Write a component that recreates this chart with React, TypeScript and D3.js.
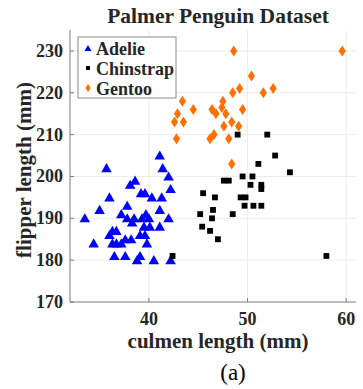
import * as d3 from "d3";

// culmen length (mm), flipper length (mm)
const adelieX = [41.1, 35.7, 41.4, 42.0, 38.6, 38.1, 42.2, 39.2, 39.6, 36.0, 40.3, 41.3, 37.8, 35.0, 41.1, 37.2, 33.5, 37.8, 38.5, 39.3, 39.7, 40.0, 42.0, 38.3, 39.5, 40.1, 41.1, 36.3, 36.7, 36.0, 39.1, 39.6, 37.6, 38.2, 34.4, 36.3, 36.7, 37.2, 39.8, 36.5, 37.6, 39.1, 38.8, 40.5, 42.2];
const adelieY = [205, 202, 202, 200, 199, 198, 197, 196, 196, 195, 195, 195, 193, 192, 192, 191, 190, 190, 190, 190, 191, 190, 190, 189, 188, 188, 188, 187, 187, 186, 186, 186, 185, 185, 184, 184, 184, 184, 184, 181, 181, 181, 180, 180, 180];

const chinstrapX = [51.1, 49.5, 50.5, 47.6, 48.1, 50.3, 51.4, 51.4, 45.5, 46.7, 49.3, 49.8, 49.7, 50.6, 51.4, 46.5, 45.2, 48.5, 46.4, 45.4, 46.2, 47.0, 42.4, 52.8, 54.3, 58.0, 49.0, 52.0];
const chinstrapY = [203, 200, 200, 199, 199, 198, 198, 197, 196, 195, 195, 195, 193, 193, 193, 192, 191, 191, 190, 188, 187, 185, 181, 205, 201, 181, 210, 210];

const gentooX = [48.6, 50.4, 49.2, 48.5, 51.6, 43.4, 47.5, 44.5, 42.9, 46.4, 46.8, 47.4, 47.8, 49.5, 42.6, 43.5, 48.4, 47.6, 49.1, 42.8, 46.2, 46.6, 48.1, 59.6, 52.6, 48.4];
const gentooY = [230, 224, 221, 220, 220, 218, 218, 216, 215, 216, 215, 216.5, 215, 216, 213, 213, 213, 212, 212, 209, 209, 210, 209, 230, 221, 203];

const xTicks = [40, 50, 60];
const yTicks = [170, 180, 190, 200, 210, 220, 230];

const font = "'Liberation Serif', 'Times New Roman', serif";
const orange = "#ff7000";
const ink = "#262626";

export default function App() {
  const width = 363, height = 389;
  const left = 70, right = 356, top = 30, bottom = 302;

  const x = d3.scaleLinear().domain([32, 61]).range([left, right]);
  const y = d3.scaleLinear().domain([170, 235]).range([bottom, top]);

  const tri = d3.symbol().type(d3.symbolTriangle).size(48)();
  const sq = d3.symbol().type(d3.symbolSquare).size(34)();
  const diamond = "M0,-5.5L3.6,0L0,5.5L-3.6,0Z";

  return (
    <svg width={width} height={height}
      style={{ position: "absolute", left: 0, top: 0, background: "#fff" }}
      fontFamily={font}>
      {/* grid */}
      {xTicks.map((t) => (
        <line key={"gx" + t} x1={x(t)} x2={x(t)} y1={top} y2={bottom} stroke="#ececec" strokeWidth={1} />
      ))}
      {yTicks.slice(1).map((t) => (
        <line key={"gy" + t} x1={left} x2={right} y1={y(t)} y2={y(t)} stroke="#ececec" strokeWidth={1} />
      ))}

      {/* axes */}
      <line x1={left} x2={left} y1={top} y2={bottom} stroke="#7a7a7a" />
      <line x1={left} x2={right} y1={bottom} y2={bottom} stroke="#7a7a7a" />
      {yTicks.map((t) => (
        <g key={"ty" + t}>
          <line x1={left} x2={left + 4} y1={y(t)} y2={y(t)} stroke="#7a7a7a" />
          <text x={left - 7} y={y(t) + 6} textAnchor="end" fontSize={18} fontWeight="bold" fill={ink}>{t}</text>
        </g>
      ))}
      {xTicks.map((t) => (
        <g key={"tx" + t}>
          <line x1={x(t)} x2={x(t)} y1={bottom} y2={bottom - 4} stroke="#7a7a7a" />
          <text x={x(t)} y={bottom + 23} textAnchor="middle" fontSize={18} fontWeight="bold" fill={ink}>{t}</text>
        </g>
      ))}

      {/* points */}
      {adelieX.map((v, i) => (
        <path key={"a" + i} d={tri} transform={`translate(${x(v)},${y(adelieY[i]) + 1})`} fill="#0000ff" />
      ))}
      {chinstrapX.map((v, i) => (
        <path key={"c" + i} d={sq} transform={`translate(${x(v)},${y(chinstrapY[i])})`} fill="#000" />
      ))}
      {gentooX.map((v, i) => (
        <path key={"g" + i} d={diamond} transform={`translate(${x(v)},${y(gentooY[i])})`} fill={orange} />
      ))}

      {/* legend */}
      <rect x={78} y={37} width={98} height={61} fill="#fff" stroke="#8a8a8a" />
      <path d={d3.symbol().type(d3.symbolTriangle).size(22)()} transform="translate(88,49)" fill="#0000ff" />
      <path d={d3.symbol().type(d3.symbolSquare).size(16)()} transform="translate(88,68)" fill="#000" />
      <path d="M0,-4L2.6,0L0,4L-2.6,0Z" transform="translate(88,88)" fill={orange} />
      <text x={96} y={55} fontSize={18} fontWeight="bold" fill={ink}>Adelie</text>
      <text x={96} y={75} fontSize={18} fontWeight="bold" fill={ink}>Chinstrap</text>
      <text x={96} y={95} fontSize={18} fontWeight="bold" fill={ink}>Gentoo</text>

      {/* titles */}
      <text x={218} y={23} textAnchor="middle" fontSize={21.5} fontWeight="bold" fill={ink}>Palmer Penguin Dataset</text>
      <text x={218} y={348} textAnchor="middle" fontSize={21} fontWeight="bold" fill={ink}>culmen length (mm)</text>
      <text transform={`translate(31,170) rotate(-90)`} textAnchor="middle" fontSize={21} fontWeight="bold" fill={ink}>flipper length (mm)</text>
      <text x={233} y={380} textAnchor="middle" fontSize={23} fill="#000">(a)</text>
    </svg>
  );
}
